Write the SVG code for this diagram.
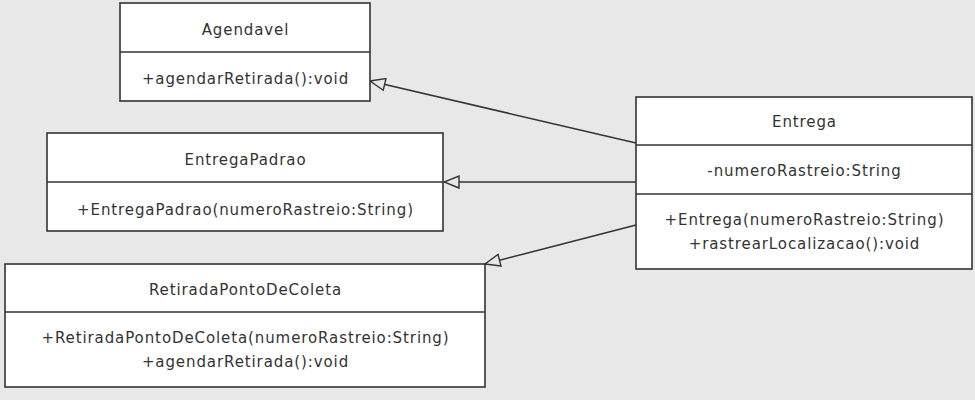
<svg xmlns="http://www.w3.org/2000/svg" width="975" height="400" viewBox="0 0 975 400">
<style>
.box{fill:#ffffff;stroke:#333333;stroke-width:1.6}
.div{stroke:#333333;stroke-width:1.6}
.t{font-family:"DejaVu Sans",sans-serif;font-size:15px;fill:#333333;text-anchor:middle;letter-spacing:0.9px}
.edge{stroke:#333333;stroke-width:1.5;fill:none;marker-end:url(#tri)}
</style>
<defs>
<marker id="tri" viewBox="0 0 17 14" refX="16" refY="7" markerWidth="17" markerHeight="14" markerUnits="userSpaceOnUse" orient="auto">
<path d="M1,1 L16,7 L1,13 Z" fill="#e8e8e8" stroke="#333333" stroke-width="1.4"/>
</marker>
</defs>
<rect width="975" height="400" fill="#e8e8e8"/>
<g id="connectors">
<line class="edge" x1="636" y1="143" x2="370" y2="81"/>
<line class="edge" x1="636" y1="182" x2="444" y2="182"/>
<line class="edge" x1="636" y1="225" x2="485" y2="264"/>
</g>
<g id="Agendavel">
<rect class="box" x="120" y="3" width="250" height="98"/>
<line class="div" x1="120" y1="52" x2="370" y2="52"/>
<text class="t" x="245.5" y="35">Agendavel</text>
<text class="t" x="245.5" y="84">+agendarRetirada():void</text>
</g>
<g id="EntregaPadrao">
<rect class="box" x="47" y="133" width="396" height="98"/>
<line class="div" x1="47" y1="182" x2="443" y2="182"/>
<text class="t" x="245.5" y="165">EntregaPadrao</text>
<text class="t" x="245.5" y="215">+EntregaPadrao(numeroRastreio:String)</text>
</g>
<g id="RetiradaPontoDeColeta">
<rect class="box" x="5" y="264" width="480" height="123"/>
<line class="div" x1="5" y1="312" x2="485" y2="312"/>
<text class="t" x="245.5" y="295">RetiradaPontoDeColeta</text>
<text class="t" x="245.5" y="343">+RetiradaPontoDeColeta(numeroRastreio:String)</text>
<text class="t" x="245.5" y="367">+agendarRetirada():void</text>
</g>
<g id="Entrega">
<rect class="box" x="636" y="97" width="336" height="172"/>
<line class="div" x1="636" y1="145" x2="972" y2="145"/>
<line class="div" x1="636" y1="194" x2="972" y2="194"/>
<text class="t" x="804.5" y="127">Entrega</text>
<text class="t" x="804.5" y="176">-numeroRastreio:String</text>
<text class="t" x="804.5" y="225">+Entrega(numeroRastreio:String)</text>
<text class="t" x="804.5" y="249">+rastrearLocalizacao():void</text>
</g>
</svg>
